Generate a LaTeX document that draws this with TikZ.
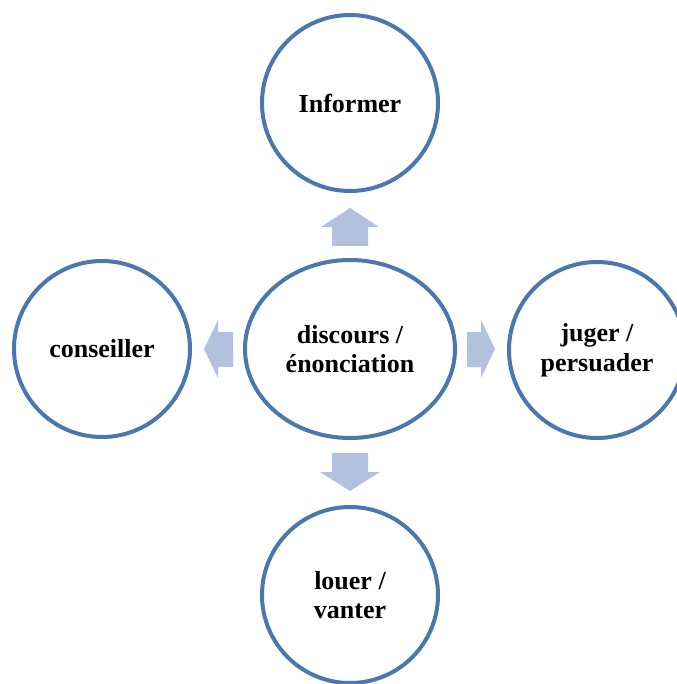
\documentclass[tikz,border=0pt]{standalone}
\usepackage{fontspec}
\setmainfont{Liberation Serif}
\usetikzlibrary{shapes.geometric}
\definecolor{ringblue}{RGB}{74,119,174}
\definecolor{arrowfill}{RGB}{178,194,222}
\begin{document}
\begin{tikzpicture}[x=1pt,y=-1pt,
  ring/.style={draw=ringblue,line width=4pt,fill=white,inner sep=0pt,
    align=center,font=\fontsize{26}{29.5}\selectfont\bfseries},
  bubble/.style={ring,circle,minimum size=176pt},
  hub/.style={ring,ellipse,minimum width=210pt,minimum height=178pt},
  blockarrow/.style={fill=arrowfill}]
\useasboundingbox (0,0) rectangle (676,684);

% centre and the four surrounding themes
\node[hub]    (hub)    at (350,349) {discours /\\énonciation};
\node[bubble] (top)    at (350,103) {Informer};
\node[bubble] (left)   at (102,349) {conseiller};
\node[bubble] (right)  at (597,350) {juger /\\persuader};
\node[bubble] (bottom) at (350,595) {louer /\\vanter};

% block arrows pointing outwards from the centre
\fill[blockarrow] (332,246) -- (332,227) -- (321,227) -- (350,208)
  -- (379,227) -- (368,227) -- (368,246) -- cycle;
\fill[blockarrow] (332,453) -- (332,472) -- (320,472) -- (350,491)
  -- (380,472) -- (368,472) -- (368,453) -- cycle;
\fill[blockarrow] (233,332) -- (218,332) -- (218,320) -- (204,349)
  -- (218,378) -- (218,367) -- (233,367) -- cycle;
\fill[blockarrow] (467,332) -- (481,332) -- (481,320) -- (495,349)
  -- (481,378) -- (481,367) -- (467,367) -- cycle;
\end{tikzpicture}
\end{document}
